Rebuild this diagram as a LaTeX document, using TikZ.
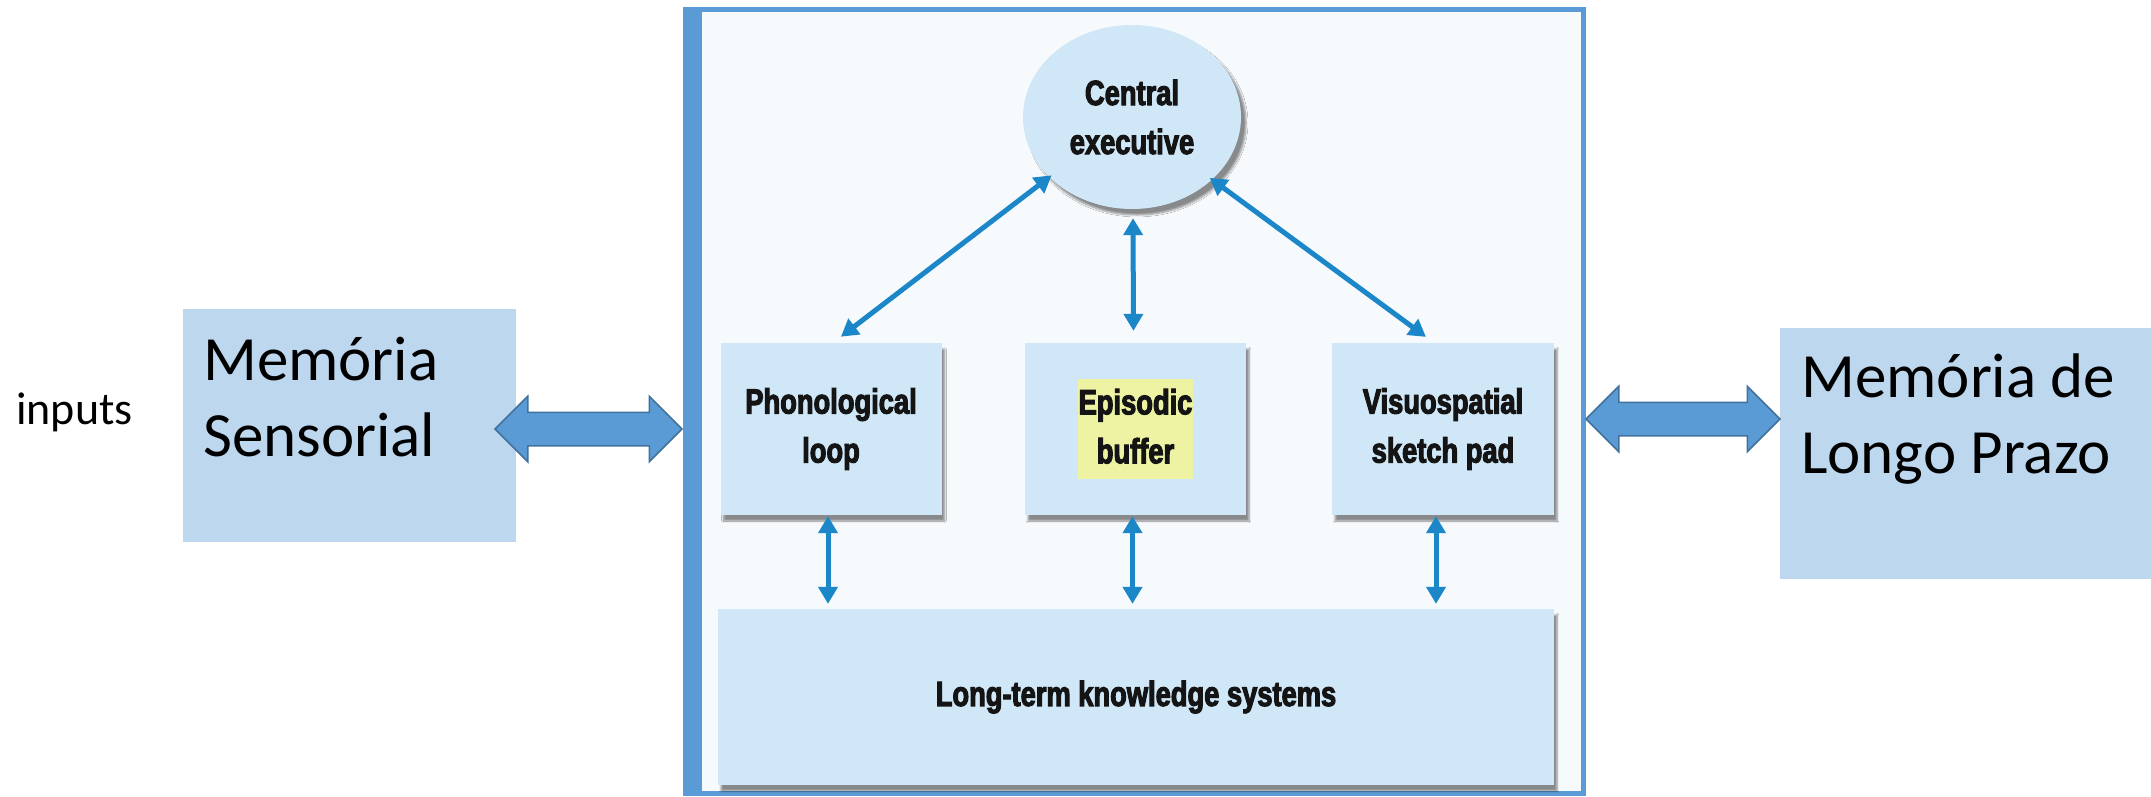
\documentclass[tikz,border=0pt]{standalone}
\usepackage{fontspec}
\setmainfont{Carlito}
\newfontfamily\innerfont[FakeStretch=0.78, BoldFeatures={FakeBold=3}]{Liberation Sans}
\usetikzlibrary{shapes.geometric,shapes.arrows,arrows.meta,shadows.blur}
\definecolor{boxblue}{HTML}{BDD7EE}
\definecolor{arrfill}{HTML}{5B9BD5}
\definecolor{arrline}{HTML}{41719C}
\definecolor{frameblue}{HTML}{5B9BD5}
\definecolor{inblue}{HTML}{CFE7F6}
\definecolor{inarrow}{HTML}{1B87C9}
\definecolor{hl}{HTML}{EDF3A2}
\definecolor{inbg}{HTML}{F7FAFC}
\begin{document}
\begin{tikzpicture}[x=1pt,y=-1pt,
 bigbox/.style={fill=boxblue, inner sep=0pt, draw=none},
 bigtxt/.style={font=\fontsize{63}{76}\selectfont, align=left, anchor=base west, inner sep=0pt},
 blockarrow/.style={double arrow, fill=arrfill, draw=arrline, line width=1.5pt,
   double arrow head extend=16pt, inner xsep=0pt, inner ysep=16pt,
   text width=0pt, text height=0pt, text depth=0pt},
 wmbox/.style={fill=inblue, inner sep=0pt,
   blur shadow={shadow xshift=3pt, shadow yshift=-6pt, shadow blur steps=6, shadow opacity=45}},
 wmtxt/.style={font=\innerfont\bfseries\fontsize{35}{49}\selectfont, align=center, text=black!92},
 link/.style={draw=inarrow, line width=5pt,
   {Triangle[width=19pt,length=17pt]}-{Triangle[width=19pt,length=17pt]}},
]
\useasboundingbox (0,0) rectangle (2151,796);

% inputs
\node[font=\fontsize{46}{55}\selectfont, anchor=base west, inner sep=0pt] (inp) at (16,424) {inputs};

% left box
\node[bigbox, minimum width=333pt, minimum height=233pt] (ms) at (349.5,425.5) {};
\node[bigtxt] (mstxt) at (203,456) {Memória\\Sensorial};

% right box
\node[bigbox, minimum width=371pt, minimum height=251pt] (mlp) at (1965.5,453.5) {};
\node[bigtxt] (mlptxt) at (1801,473) {Memória de\\Longo Prazo};

% central frame
\fill[inbg] (702,11) rectangle (1581,792);
\node[draw=frameblue, line width=5pt, minimum width=898pt, minimum height=784pt, inner sep=0pt] (frame) at (1134.25,401.5) {};
\fill[frameblue] (683,7) rectangle (702,796);

% block arrows
\node[blockarrow, minimum height=187pt] (la) at (588.5,429) {};
\node[blockarrow, minimum height=194pt] (ra) at (1683,419) {};

% working memory model
\node[ellipse, fill=inblue, minimum width=218pt, minimum height=184pt,
  blur shadow={shadow xshift=5pt, shadow yshift=-6pt, shadow blur steps=6, shadow opacity=45},
  wmtxt] (ce) at (1132,117) {Central\\executive};

\node[wmbox, minimum width=221pt, minimum height=172pt, wmtxt] (pl) at (831,429) {Phonological\\loop};
\node[wmbox, minimum width=221pt, minimum height=172pt, wmtxt] (eb) at (1135.5,429)
  {\setlength{\fboxsep}{1pt}\colorbox{hl}{\begin{tabular}{@{}c@{}}Episodic\\buffer\end{tabular}}};
\node[wmbox, minimum width=222pt, minimum height=172pt, wmtxt] (vs) at (1443,429) {Visuospatial\\sketch pad};
\node[wmbox, minimum width=836pt, minimum height=176pt, wmtxt] (lt) at (1136,697) {Long-term knowledge systems};

% links
\draw[link, shorten <=-3pt, shorten >=10pt] (ce.216) -- ([xshift=2pt]pl.north);
\draw[link, shorten <=9pt, shorten >=12pt] ([xshift=1pt]ce.south) -- ([xshift=-2pt]eb.north);
\draw[link, shorten <=-3pt, shorten >=10pt] (ce.322) -- ([xshift=-9pt]vs.north);

\draw[link, shorten <=1pt, shorten >=5pt] ([xshift=-3pt]pl.south) -- ([xshift=-3pt]pl.south |- lt.north);
\draw[link, shorten <=1pt, shorten >=5pt] ([xshift=-3pt]eb.south) -- ([xshift=-3pt]eb.south |- lt.north);
\draw[link, shorten <=1pt, shorten >=5pt] ([xshift=-7pt]vs.south) -- ([xshift=-7pt]vs.south |- lt.north);
\end{tikzpicture}
\end{document}
